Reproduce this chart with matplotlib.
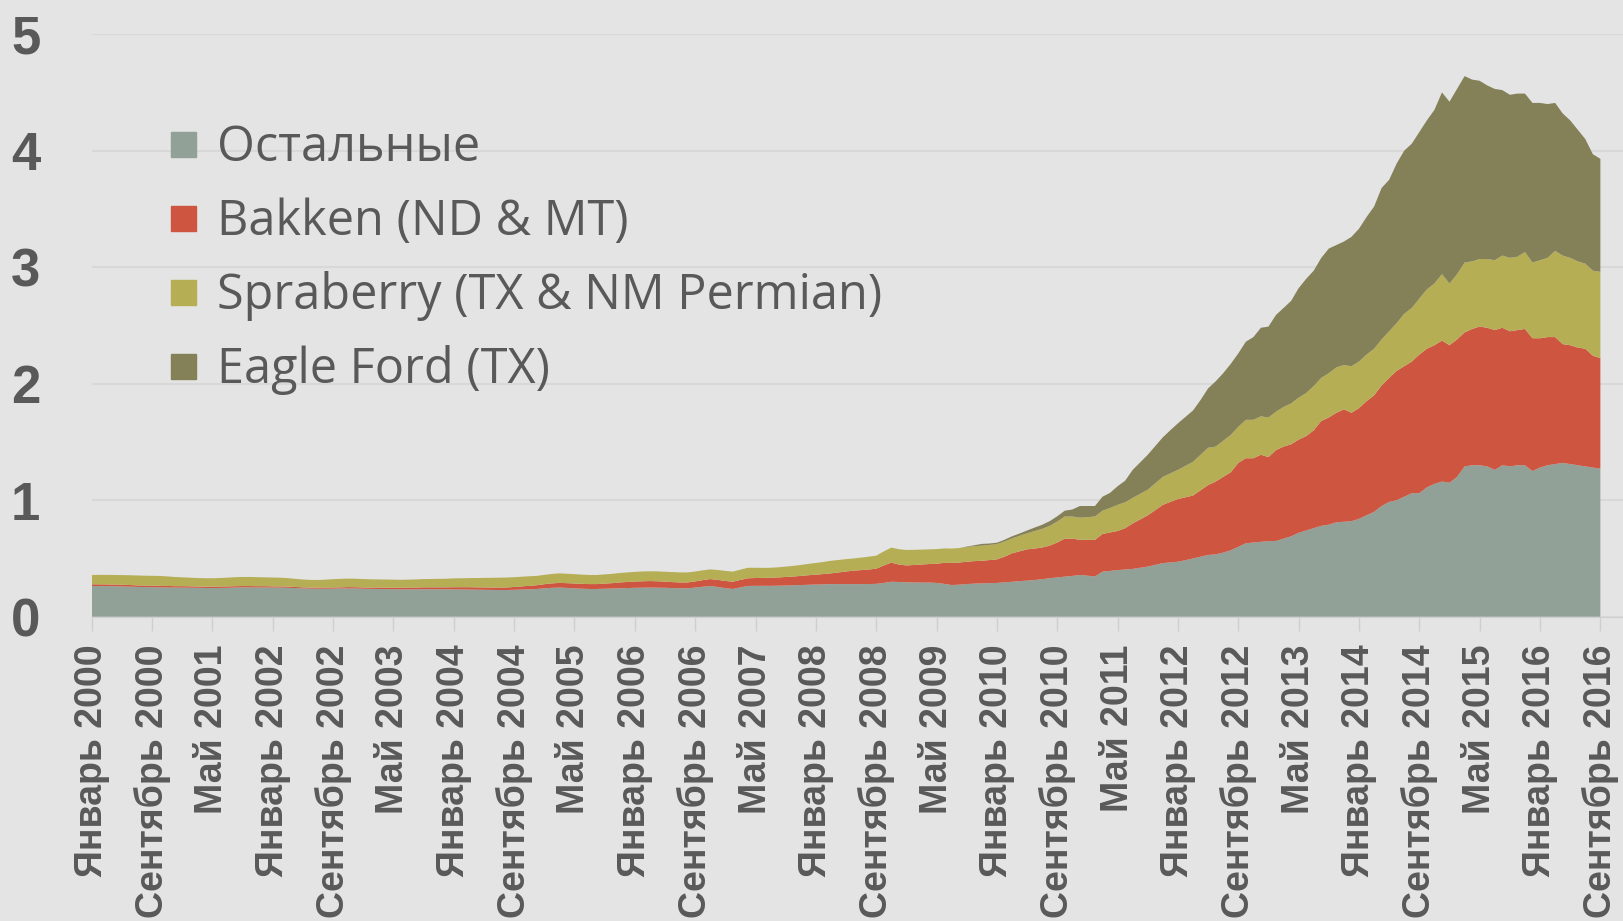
import numpy as np
import matplotlib
matplotlib.use('Agg')
import matplotlib.pyplot as plt
from matplotlib.lines import Line2D

# Monthly values, Jan 2000 .. Sep 2016 (one row per year)
ostalnye = [
    0.263, 0.263, 0.262, 0.262, 0.260, 0.258, 0.256, 0.254, 0.253, 0.252, 0.251, 0.250,
    0.250, 0.249, 0.248, 0.247, 0.246, 0.247, 0.248, 0.250, 0.252, 0.252, 0.251, 0.251,
    0.250, 0.250, 0.248, 0.246, 0.243, 0.241, 0.240, 0.240, 0.241, 0.242, 0.243, 0.242,
    0.240, 0.239, 0.238, 0.237, 0.236, 0.235, 0.235, 0.235, 0.236, 0.236, 0.235, 0.235,
    0.235, 0.234, 0.233, 0.232, 0.231, 0.230, 0.229, 0.229, 0.231, 0.233, 0.235, 0.238,
    0.243, 0.248, 0.250, 0.247, 0.243, 0.240, 0.238, 0.238, 0.240, 0.242, 0.244, 0.246,
    0.248, 0.249, 0.250, 0.249, 0.248, 0.246, 0.244, 0.244, 0.250, 0.257, 0.263, 0.255,
    0.245, 0.238, 0.252, 0.264, 0.265, 0.265, 0.265, 0.266, 0.268, 0.270, 0.272, 0.274,
    0.276, 0.278, 0.280, 0.280, 0.280, 0.280, 0.280, 0.280, 0.282, 0.290, 0.300, 0.298,
    0.295, 0.294, 0.293, 0.293, 0.290, 0.282, 0.272, 0.275, 0.280, 0.284, 0.286, 0.288,
    0.290, 0.295, 0.300, 0.305, 0.310, 0.315, 0.322, 0.330, 0.337, 0.344, 0.350, 0.358,
    0.352, 0.345, 0.387, 0.393, 0.400, 0.405, 0.410, 0.420, 0.430, 0.445, 0.460, 0.466,
    0.472, 0.485, 0.500, 0.515, 0.530, 0.535, 0.550, 0.570, 0.600, 0.630, 0.637, 0.643,
    0.648, 0.650, 0.670, 0.690, 0.720, 0.740, 0.760, 0.780, 0.790, 0.810, 0.815, 0.820,
    0.840, 0.870, 0.900, 0.950, 0.985, 1.000, 1.030, 1.060, 1.060, 1.110, 1.140, 1.160,
    1.150, 1.200, 1.290, 1.300, 1.300, 1.290, 1.260, 1.300, 1.290, 1.300, 1.300, 1.250,
    1.280, 1.300, 1.310, 1.320, 1.310, 1.300, 1.290, 1.280, 1.270,
]
bakken = [
    0.015, 0.015, 0.015, 0.014, 0.014, 0.014, 0.013, 0.013, 0.013, 0.013, 0.013, 0.012,
    0.012, 0.012, 0.011, 0.011, 0.012, 0.012, 0.012, 0.012, 0.011, 0.011, 0.011, 0.011,
    0.010, 0.010, 0.010, 0.009, 0.009, 0.009, 0.010, 0.010, 0.010, 0.010, 0.011, 0.011,
    0.011, 0.011, 0.012, 0.012, 0.013, 0.014, 0.015, 0.015, 0.016, 0.016, 0.017, 0.017,
    0.018, 0.019, 0.020, 0.020, 0.020, 0.020, 0.021, 0.022, 0.024, 0.027, 0.030, 0.032,
    0.036, 0.038, 0.040, 0.041, 0.042, 0.042, 0.042, 0.042, 0.044, 0.046, 0.050, 0.052,
    0.054, 0.055, 0.056, 0.055, 0.053, 0.051, 0.050, 0.050, 0.053, 0.057, 0.060, 0.061,
    0.062, 0.062, 0.064, 0.066, 0.067, 0.068, 0.070, 0.071, 0.073, 0.075, 0.078, 0.082,
    0.085, 0.088, 0.092, 0.100, 0.108, 0.115, 0.120, 0.125, 0.130, 0.150, 0.164, 0.150,
    0.145, 0.150, 0.155, 0.159, 0.165, 0.180, 0.190, 0.190, 0.192, 0.193, 0.194, 0.198,
    0.202, 0.220, 0.244, 0.256, 0.268, 0.270, 0.272, 0.280, 0.300, 0.326, 0.320, 0.302,
    0.308, 0.315, 0.323, 0.330, 0.336, 0.355, 0.390, 0.415, 0.440, 0.470, 0.500, 0.520,
    0.538, 0.540, 0.540, 0.570, 0.600, 0.625, 0.650, 0.670, 0.720, 0.730, 0.723, 0.747,
    0.722, 0.780, 0.790, 0.790, 0.800, 0.810, 0.840, 0.900, 0.920, 0.940, 0.965, 0.930,
    0.950, 0.980, 1.000, 1.035, 1.065, 1.110, 1.120, 1.130, 1.190, 1.190, 1.190, 1.210,
    1.180, 1.180, 1.150, 1.170, 1.190, 1.190, 1.200, 1.180, 1.160, 1.160, 1.170, 1.140,
    1.110, 1.100, 1.090, 1.020, 1.020, 1.010, 1.010, 0.960, 0.950,
]
spraberry = [
    0.080, 0.081, 0.082, 0.082, 0.083, 0.084, 0.085, 0.085, 0.085, 0.085, 0.082, 0.079,
    0.076, 0.074, 0.073, 0.072, 0.072, 0.073, 0.075, 0.077, 0.078, 0.078, 0.077, 0.076,
    0.076, 0.075, 0.073, 0.070, 0.067, 0.066, 0.065, 0.068, 0.071, 0.073, 0.073, 0.073,
    0.072, 0.071, 0.070, 0.070, 0.069, 0.068, 0.068, 0.070, 0.071, 0.072, 0.073, 0.074,
    0.076, 0.077, 0.078, 0.080, 0.082, 0.084, 0.085, 0.085, 0.084, 0.083, 0.082, 0.080,
    0.080, 0.081, 0.082, 0.081, 0.080, 0.079, 0.078, 0.078, 0.079, 0.080, 0.081, 0.082,
    0.083, 0.084, 0.084, 0.085, 0.085, 0.086, 0.086, 0.086, 0.085, 0.084, 0.083, 0.085,
    0.086, 0.087, 0.088, 0.090, 0.088, 0.086, 0.085, 0.087, 0.089, 0.091, 0.094, 0.097,
    0.100, 0.104, 0.108, 0.107, 0.106, 0.105, 0.107, 0.110, 0.112, 0.120, 0.129, 0.131,
    0.133, 0.130, 0.128, 0.126, 0.125, 0.124, 0.123, 0.124, 0.126, 0.128, 0.130, 0.130,
    0.131, 0.130, 0.128, 0.133, 0.138, 0.150, 0.160, 0.170, 0.180, 0.190, 0.190, 0.190,
    0.195, 0.200, 0.200, 0.210, 0.224, 0.222, 0.220, 0.220, 0.220, 0.230, 0.240, 0.245,
    0.250, 0.270, 0.290, 0.305, 0.320, 0.300, 0.310, 0.320, 0.310, 0.330, 0.330, 0.330,
    0.340, 0.330, 0.340, 0.350, 0.360, 0.370, 0.380, 0.370, 0.380, 0.390, 0.380, 0.400,
    0.400, 0.400, 0.400, 0.395, 0.400, 0.410, 0.450, 0.460, 0.480, 0.510, 0.530, 0.570,
    0.530, 0.560, 0.600, 0.580, 0.580, 0.590, 0.600, 0.620, 0.630, 0.630, 0.660, 0.650,
    0.670, 0.680, 0.740, 0.760, 0.750, 0.740, 0.730, 0.730, 0.740,
]
eagle_ford = [
    0.0, 0.0, 0.0, 0.0, 0.0, 0.0, 0.0, 0.0, 0.0, 0.0, 0.0, 0.0,
    0.0, 0.0, 0.0, 0.0, 0.0, 0.0, 0.0, 0.0, 0.0, 0.0, 0.0, 0.0,
    0.0, 0.0, 0.0, 0.0, 0.0, 0.0, 0.0, 0.0, 0.0, 0.0, 0.0, 0.0,
    0.0, 0.0, 0.0, 0.0, 0.0, 0.0, 0.0, 0.0, 0.0, 0.0, 0.0, 0.0,
    0.0, 0.0, 0.0, 0.0, 0.0, 0.0, 0.0, 0.0, 0.0, 0.0, 0.0, 0.0,
    0.0, 0.0, 0.0, 0.0, 0.0, 0.0, 0.0, 0.0, 0.0, 0.0, 0.0, 0.0,
    0.0, 0.0, 0.0, 0.0, 0.0, 0.0, 0.0, 0.0, 0.0, 0.0, 0.0, 0.0,
    0.0, 0.0, 0.0, 0.0, 0.0, 0.0, 0.0, 0.0, 0.0, 0.0, 0.0, 0.0,
    0.0, 0.0, 0.0, 0.0, 0.0, 0.0, 0.0, 0.0, 0.0, 0.0, 0.0, 0.0,
    0.0, 0.0, 0.0, 0.0, 0.0, 0.0, 0.0, 0.0, 0.004, 0.008, 0.015, 0.012,
    0.012, 0.015, 0.018, 0.020, 0.024, 0.030, 0.035, 0.040, 0.045, 0.050, 0.060, 0.100,
    0.095, 0.090, 0.120, 0.130, 0.160, 0.185, 0.240, 0.270, 0.300, 0.320, 0.340, 0.370,
    0.400, 0.420, 0.440, 0.470, 0.510, 0.560, 0.580, 0.610, 0.630, 0.670, 0.710, 0.760,
    0.780, 0.830, 0.850, 0.880, 0.940, 0.980, 0.990, 1.030, 1.070, 1.050, 1.060, 1.110,
    1.140, 1.180, 1.220, 1.300, 1.300, 1.370, 1.400, 1.410, 1.430, 1.450, 1.490, 1.560,
    1.560, 1.590, 1.600, 1.560, 1.530, 1.490, 1.470, 1.420, 1.400, 1.400, 1.360, 1.370,
    1.350, 1.320, 1.270, 1.220, 1.180, 1.130, 1.070, 1.000, 0.970,
]

series_names = ['Остальные', 'Bakken (ND & MT)', 'Spraberry (TX & NM Permian)', 'Eagle Ford (TX)']
series_colors = ['#91a197', '#ce5540', '#b5ae54', '#848058']

tick_labels = [
    'Январь 2000', 'Сентябрь 2000', 'Май 2001', 'Январь 2002', 'Сентябрь 2002',
    'Май 2003', 'Январь 2004', 'Сентябрь 2004', 'Май 2005', 'Январь 2006',
    'Сентябрь 2006', 'Май 2007', 'Январь 2008', 'Сентябрь 2008', 'Май 2009',
    'Январь 2010', 'Сентябрь 2010', 'Май 2011', 'Январь 2012', 'Сентябрь 2012',
    'Май 2013', 'Январь 2014', 'Сентябрь 2014', 'Май 2015', 'Январь 2016',
    'Сентябрь 2016',
]

months = np.arange(len(ostalnye))
bg = '#e4e4e4'
text_col = '#595959'

fig = plt.figure(figsize=(16.23, 9.21), dpi=100, facecolor=bg)
ax = fig.add_axes([0.0565, 0.3304, 0.9435, 0.6325])
ax.set_facecolor('none')

ax.stackplot(months, ostalnye, bakken, spraberry, eagle_ford,
             colors=series_colors, linewidth=0, zorder=2)

ax.set_xlim(0, 203)
ax.set_ylim(0, 5)

# Format plot
ax.set_yticks(range(0, 6))
ax.yaxis.grid(True, color='#d8d8d8', linewidth=1.5, zorder=0)
ax.tick_params(axis='y', length=0, pad=37, labelsize=38, labelcolor=text_col)
for lab in ax.get_yticklabels():
    lab.set_fontweight('bold')
    lab.set_fontfamily('Liberation Sans')

ax.set_xticks(months[::8])
ax.set_xticklabels(tick_labels, rotation=90, fontsize=27, fontweight='bold',
                   color=text_col, family='Liberation Sans')
ax.tick_params(axis='x', length=10, width=1, color='#cfcfcf', pad=10)

for side in ['top', 'right', 'left']:
    ax.spines[side].set_visible(False)
ax.spines['bottom'].set_color('#d0d0d0')

handles = [Line2D([], [], marker='s', linestyle='', markersize=18, color=c)
           for c in series_colors]
leg = ax.legend(handles, series_names, loc='upper left',
                bbox_to_anchor=(0.101, 0.866), bbox_transform=fig.transFigure,
                frameon=False, labelspacing=0.5, handlelength=0.8,
                handletextpad=0.3, borderpad=0, borderaxespad=0,
                prop={'family': ['Open Sans', 'DejaVu Sans'], 'size': 35})
for t in leg.get_texts():
    t.set_color(text_col)

fig.savefig('out.png', dpi=100, facecolor=bg)
